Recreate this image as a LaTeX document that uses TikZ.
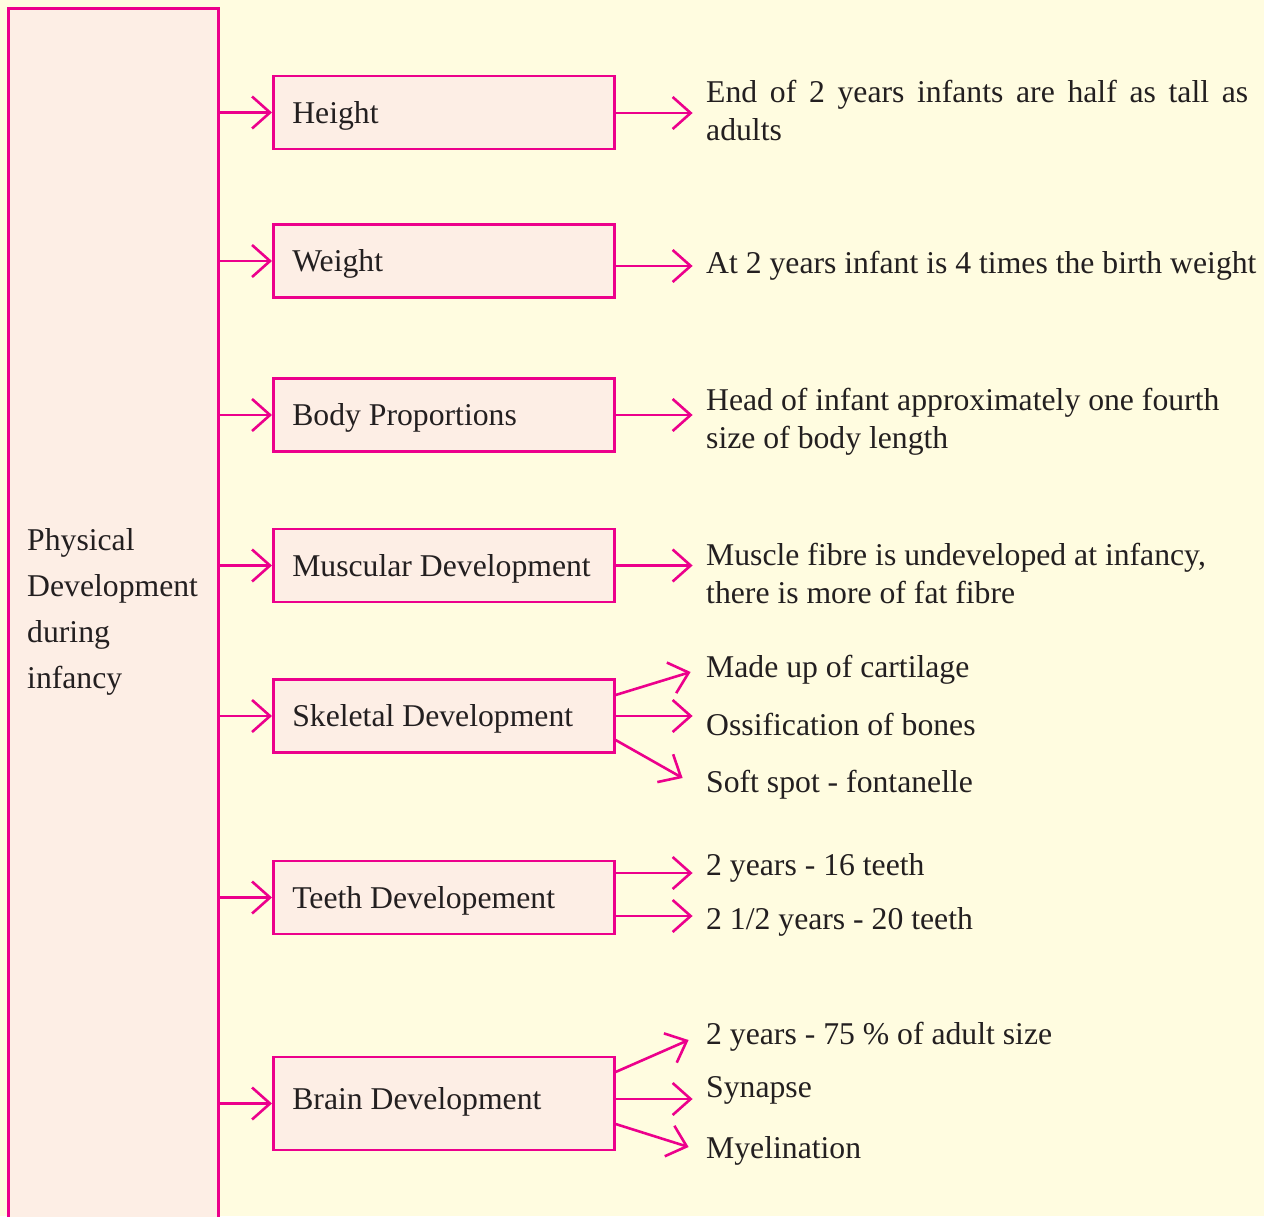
\documentclass[tikz,border=0pt]{standalone}
\usepackage{fontspec}
\setmainfont{Liberation Serif}
\usetikzlibrary{arrows.meta}
\definecolor{mag}{HTML}{EC008C}
\definecolor{bg}{HTML}{FFFCE0}
\definecolor{boxfill}{HTML}{FDEEE5}
\definecolor{txt}{HTML}{231F20}
\newcommand\myfs{\fontsize{31.7}{38}\selectfont}
\begin{document}
\begin{tikzpicture}[x=1pt,y=-1pt,
  cat/.style={draw=mag, line width=2.6pt, fill=boxfill, minimum height=73pt, text width=303pt, inner xsep=19pt, inner ysep=0pt, text depth=1pt, align=flush left, anchor=west, font=\myfs, text=txt},
  desc/.style={anchor=west, inner sep=0pt, text=txt, font=\myfs, align=left},
  djust/.style={desc, text width=542pt, align=justify},
  arr/.style={draw=mag, line width=2.6pt, -{Straight Barb[length=18pt,width=32pt]}}]
\useasboundingbox (0,0) rectangle (1264,1216);
\fill[bg] (0,0) rectangle (1264,1216);
\clip (0,0) rectangle (1264,1216);
\node[draw=mag, line width=2.6pt, fill=boxfill, minimum width=210pt, minimum height=1240pt, anchor=north west, inner sep=0pt] (main) at (7,7) {};
\node[desc, font=\fontsize{31.7}{46}\selectfont] (mt) at (27,612) {Physical\\Development\\during\\infancy};
% category boxes
\node[cat] (hb) at (272,112.5) {Height};
\node[cat] (wb) at (272,261) {Weight};
\node[cat] (bb) at (272,415) {Body Proportions};
\node[cat] (mb) at (272,565.5) {Muscular Development};
\node[cat] (sb) at (272,716) {Skeletal Development};
\node[cat] (tb) at (272,897.5) {Teeth Developement};
\node[cat, minimum height=93pt, text depth=11pt] (rb) at (272,1103.5) {Brain Development};
% left arrows
\foreach \n in {hb,wb,bb,mb,sb,tb,rb}
  \draw[arr] (main.east |- \n.west) -- (\n.west);
% descriptions
\node[djust] (h1) at (706,110) {End of 2 years infants are half as tall as adults};
\node[desc] (w1) at (706,266) {At 2 years infant is 4 times the birth weight};
\node[desc] (b1) at (706,422) {Head of infant approximately one fourth\\size of body length};
\node[desc] (m1) at (706,573) {Muscle fibre is undeveloped at infancy,\\there is more of fat fibre};
\node[desc] (s1) at (706,670) {Made up of cartilage};
\node[desc] (s2) at (706,724) {Ossification of bones};
\node[desc] (s3) at (706,785) {Soft spot - fontanelle};
\node[desc] (t1) at (706,868) {2 years - 16 teeth};
\node[desc] (t2) at (706,922) {2 1/2 years - 20 teeth};
\node[desc] (r1) at (706,1037) {2 years - 75 \% of adult size};
\node[desc] (r2) at (706,1090) {Synapse};
\node[desc] (r3) at (706,1151) {Myelination};
% right arrows
\draw[arr] ([yshift=-0.5pt]hb.east) -- +(77,0);
\draw[arr] ([yshift=-5pt]wb.east) -- +(77,0);
\draw[arr] (bb.east) -- +(77,0);
\draw[arr] (mb.east) -- +(77,0);
\draw[arr] ([yshift=21pt]sb.east) -- +(75,-23);
\draw[arr] (sb.east) -- +(77,0);
\draw[arr] ([yshift=-24pt]sb.east) -- +(67,38);
\draw[arr] ([yshift=24.5pt]tb.east) -- +(77,0);
\draw[arr] ([yshift=-18.5pt]tb.east) -- +(77,0);
\draw[arr] ([yshift=31.5pt]rb.east) -- +(73,-32);
\draw[arr] ([yshift=4.5pt]rb.east) -- +(77,0);
\draw[arr] ([yshift=-20.5pt]rb.east) -- +(73,23);
\end{tikzpicture}
\end{document}
